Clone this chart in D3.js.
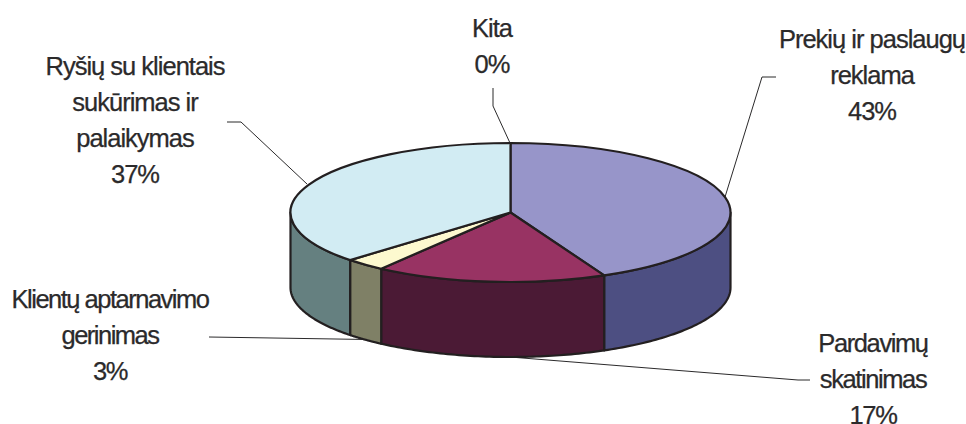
<!DOCTYPE html>
<html><head><meta charset="utf-8">
<script src="https://cdn.jsdelivr.net/npm/d3@7"></script>
<style>
html,body{margin:0;padding:0;background:#fff}
svg{display:block}
text{font-family:"Liberation Sans",Arial,sans-serif;font-size:25.5px;fill:#2b2a2b;stroke:#2b2a2b;stroke-width:.25px;text-anchor:middle}
</style></head><body>
<svg id="c" width="966" height="424"></svg>
<script>
const categories = ["Prekių ir paslaugų reklama","Pardavimų skatinimas","Klientų aptarnavimo gerinimas","Ryšių su klientais sukūrimas ir palaikymas","Kita"];
const values = [43,17,3,37,0];
const labelLines = [["Prekių ir paslaugų","reklama","43%"],["Pardavimų","skatinimas","17%"],["Klientų aptarnavimo","gerinimas","3%"],["Ryšių su klientais","sukūrimas ir","palaikymas","37%"],["Kita","0%"]];
const topColors = ["#9795c9","#983363","#fdf9cf","#d2ecf3","#ffffff"];
const wallColors = ["#4d4f82","#4b1a35","#7f8066","#658080","#ffffff"];

// layout
const cx=510.5, cy=212.5, rx=220, ry=69.5, depth=75;
const labelAt=[[872,48],[873,351.5],[110,308],[135,75],[492,37]];
const labelSpacing=[-1,-1.4,-1.5,-1,-1];
const lineH=36;
const leaders=[
 [[776,77],[762,77],[725,197]],
 [[810,380],[798,380],[510,357]],
 [[209,337],[367,339.5]],
 [[227,122],[241,122],[307,184]],
 [[493,88],[493,106],[510,143]]
];

const svg=d3.select("#c");
const pie=d3.pie().sort(null).value(d=>d)(values);
const pt=(a,dy=0)=>[cx+rx*Math.sin(a),cy-ry*Math.cos(a)+dy];
const ink="#231f20", sw=2.2;

const line=d3.line();
svg.append("g").selectAll("path").data(leaders).join("path")
  .attr("d",d=>line(d)).attr("fill","none").attr("stroke","#2b2a2b").attr("stroke-width",1);

const lo=Math.PI/2, hi=3*Math.PI/2;
const walls=pie.map((s,i)=>({i,a0:Math.max(s.startAngle,lo),a1:Math.min(s.endAngle,hi)})).filter(w=>w.a1>w.a0);
svg.append("g").selectAll("path").data(walls).join("path")
  .attr("d",w=>{
    const angles=d3.range(0,61).map(k=>w.a0+(w.a1-w.a0)*k/60);
    const top=angles.map(a=>pt(a));
    const bottom=angles.map(a=>pt(a,depth)).reverse();
    return line(top.concat(bottom))+"Z";
  })
  .attr("fill",w=>wallColors[w.i]).attr("stroke",ink).attr("stroke-width",sw).attr("stroke-linejoin","round");

const arc=d3.arc().innerRadius(0).outerRadius(rx);
svg.append("g").attr("transform",`translate(${cx},${cy}) scale(1,${ry/rx})`)
  .selectAll("path").data(pie.filter(s=>s.value>0)).join("path")
  .attr("d",arc).attr("fill",s=>topColors[s.index])
  .attr("stroke",ink).attr("stroke-width",sw).attr("stroke-linejoin","round")
  .attr("vector-effect","non-scaling-stroke");

svg.append("g").selectAll("text").data(labelLines).join("text")
  .attr("transform",(d,i)=>`translate(${labelAt[i][0]},${labelAt[i][1]})`)
  .style("letter-spacing",(d,i)=>labelSpacing[i]+"px")
  .selectAll("tspan").data(d=>d).join("tspan")
  .attr("x",0).attr("y",(d,j)=>j*lineH).text(d=>d);
</script>
</body></html>
